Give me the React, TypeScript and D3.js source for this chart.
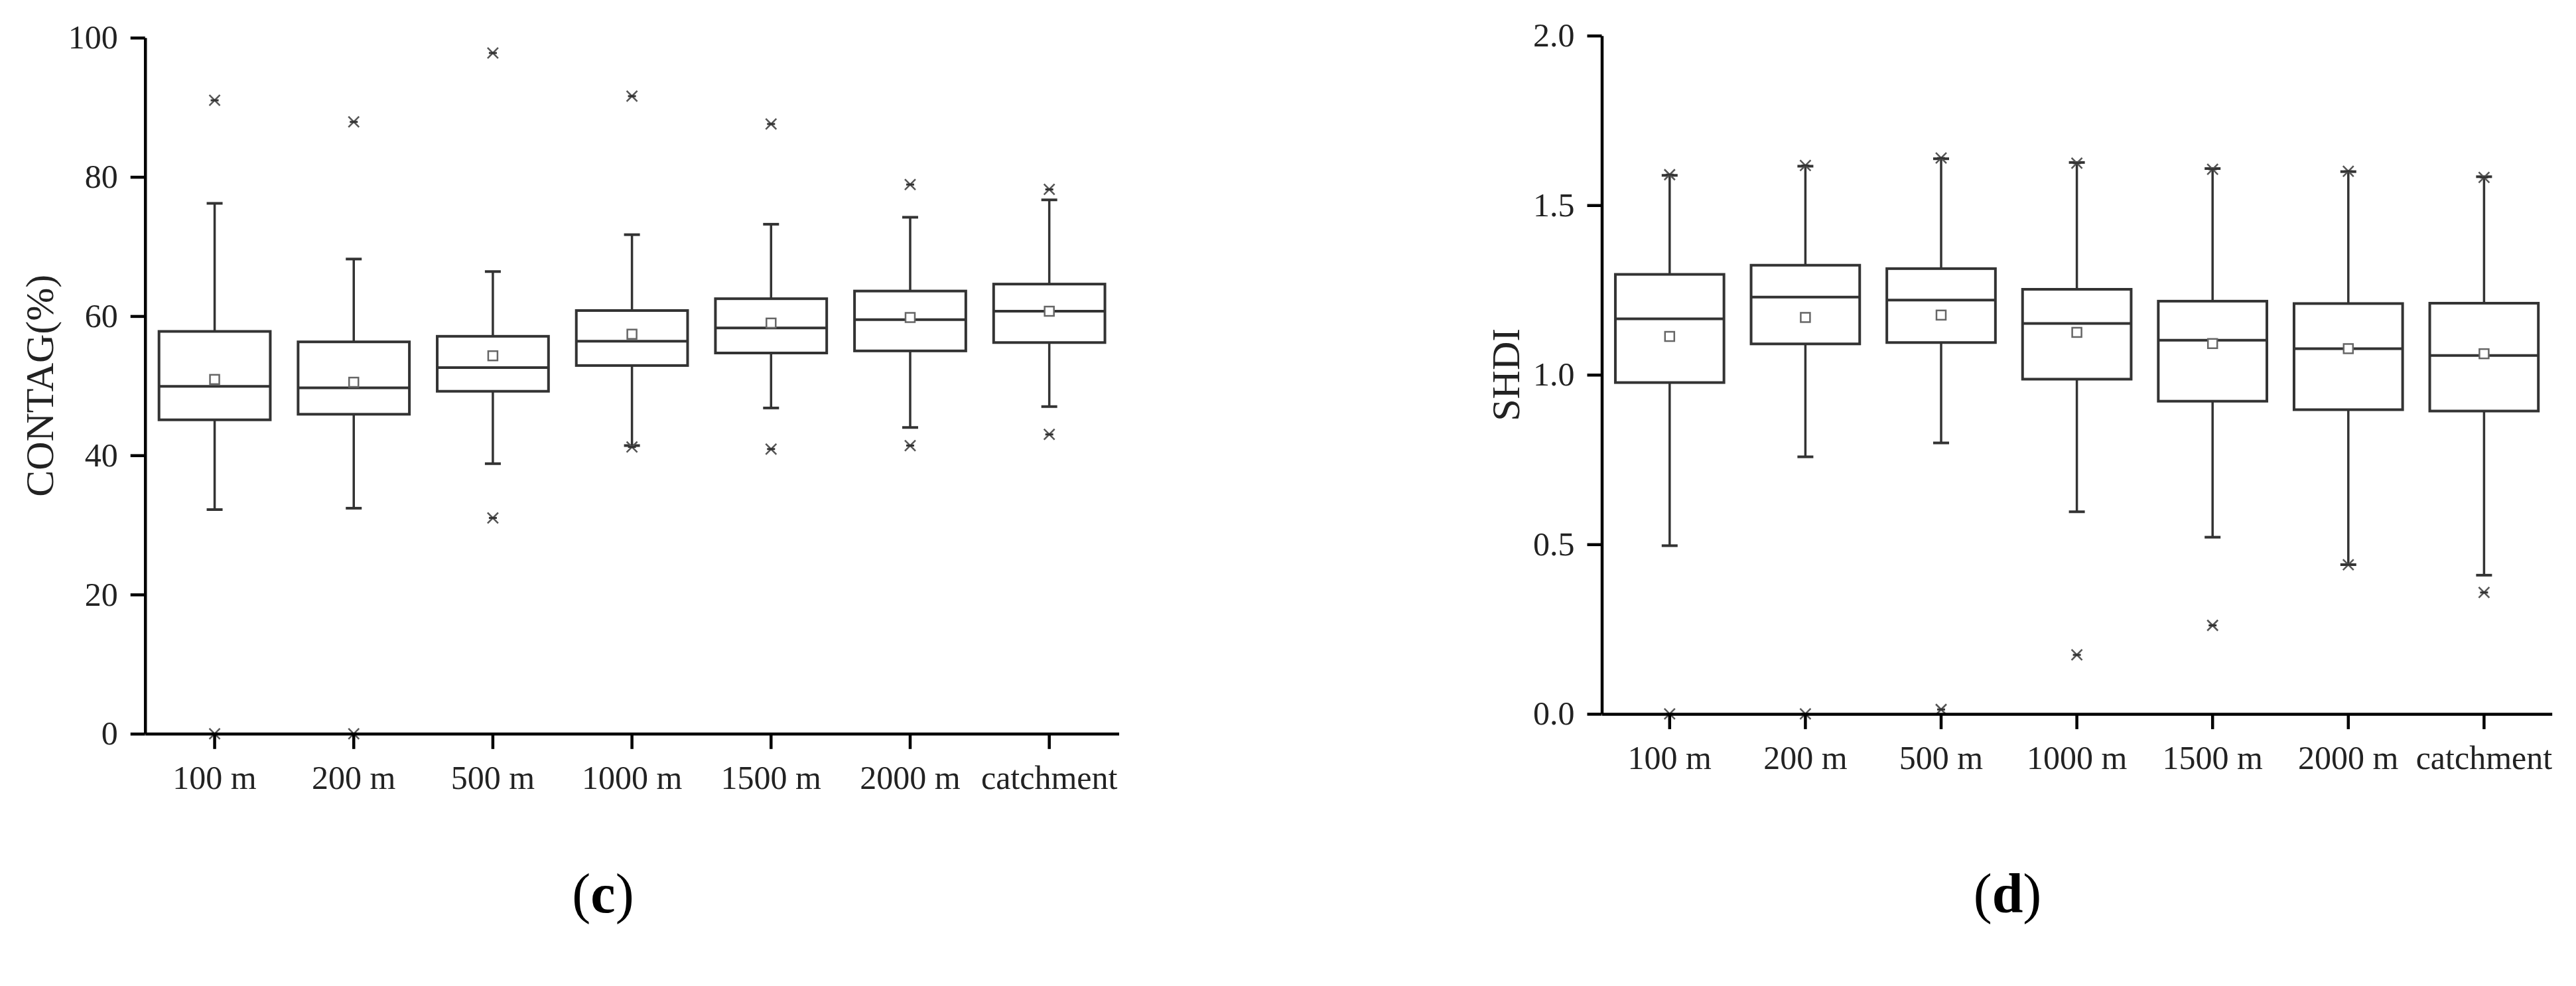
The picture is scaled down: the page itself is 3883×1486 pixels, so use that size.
import React, { useEffect, useRef } from 'react';
import * as d3 from 'd3';

// categories shared by both panels
const categories = ["100 m", "200 m", "500 m", "1000 m", "1500 m", "2000 m", "catchment"];

// (c) CONTAG(%)
const contagQ1 = [45.1, 45.9, 49.2, 52.9, 54.7, 55.0, 56.2];
const contagMedian = [49.9, 49.7, 52.6, 56.4, 58.3, 59.5, 60.7];
const contagQ3 = [57.8, 56.3, 57.1, 60.8, 62.5, 63.6, 64.6];
const contagMean = [50.9, 50.5, 54.3, 57.4, 59.0, 59.8, 60.7];
const contagLow = [32.2, 32.4, 38.8, 41.4, 46.8, 44.0, 47.0];
const contagHigh = [76.2, 68.2, 66.4, 71.7, 73.2, 74.2, 76.7];
const contagOutHigh = [91.0, 87.9, 97.8, 91.6, 87.6, 78.9, 78.2];
const contagOutLow = [0, 0, 31.0, 41.2, 40.9, 41.4, 43.0];
const contagTicks = [0, 20, 40, 60, 80, 100];

// (d) SHDI
const shdiQ1 = [0.977, 1.091, 1.095, 0.987, 0.922, 0.897, 0.893];
const shdiMedian = [1.165, 1.229, 1.220, 1.151, 1.102, 1.077, 1.057];
const shdiQ3 = [1.296, 1.323, 1.313, 1.252, 1.217, 1.210, 1.211];
const shdiMean = [1.113, 1.169, 1.176, 1.125, 1.092, 1.077, 1.062];
const shdiLow = [0.496, 0.758, 0.799, 0.596, 0.521, 0.440, 0.409];
const shdiHigh = [1.588, 1.615, 1.637, 1.626, 1.608, 1.599, 1.584];
const shdiOutHigh = [1.590, 1.617, 1.639, 1.624, 1.606, 1.600, 1.582];
const shdiOutLow = [0, 0, 0.013, 0.174, 0.261, 0.440, 0.358];
const shdiTicks = [0, 0.5, 1.0, 1.5, 2.0];

const FONT = '"Liberation Serif", "Times New Roman", serif';

function drawPanel(svg, opt) {
  const g = svg.append("g");
  const x = d3.scaleBand().domain(categories).range([opt.left, opt.right]).padding(0);
  const y = d3.scaleLinear().domain(opt.domain).range([opt.bottom, opt.top]);
  const bw = x.bandwidth() * 0.8;
  const capW = 24;
  const ink = "#333";

  const rows = categories.map((c, i) => ({
    c, q1: opt.q1[i], med: opt.med[i], q3: opt.q3[i], mean: opt.mean[i],
    lo: opt.lo[i], hi: opt.hi[i], oh: opt.outHigh[i], ol: opt.outLow[i]
  }));

  const box = g.selectAll(".box").data(rows).enter().append("g")
    .attr("transform", d => "translate(" + (x(d.c) + x.bandwidth() / 2) + ",0)");

  // whiskers
  box.append("line").attr("x1", 0).attr("x2", 0)
    .attr("y1", d => y(d.q3)).attr("y2", d => y(d.hi))
    .attr("stroke", ink).attr("stroke-width", 3.5);
  box.append("line").attr("x1", 0).attr("x2", 0)
    .attr("y1", d => y(d.q1)).attr("y2", d => y(d.lo))
    .attr("stroke", ink).attr("stroke-width", 3.5);
  box.append("line").attr("x1", -capW / 2).attr("x2", capW / 2)
    .attr("y1", d => y(d.hi)).attr("y2", d => y(d.hi))
    .attr("stroke", ink).attr("stroke-width", 4);
  box.append("line").attr("x1", -capW / 2).attr("x2", capW / 2)
    .attr("y1", d => y(d.lo)).attr("y2", d => y(d.lo))
    .attr("stroke", ink).attr("stroke-width", 4);

  // box and median
  box.append("rect")
    .attr("x", -bw / 2).attr("width", bw)
    .attr("y", d => y(d.q3)).attr("height", d => y(d.q1) - y(d.q3))
    .attr("fill", "white").attr("stroke", ink).attr("stroke-width", 4);
  box.append("line").attr("x1", -bw / 2).attr("x2", bw / 2)
    .attr("y1", d => y(d.med)).attr("y2", d => y(d.med))
    .attr("stroke", ink).attr("stroke-width", 4);

  // mean square
  box.append("rect")
    .attr("x", -7).attr("width", 14)
    .attr("y", d => y(d.mean) - 7).attr("height", 14)
    .attr("fill", "white").attr("stroke", "#666").attr("stroke-width", 2.5);

  // extreme markers (x with dash)
  const cross = (sel, key) => {
    const m = sel.append("g").attr("transform", d => "translate(0," + y(d[key]) + ")");
    m.append("path").attr("d", "M-8,-8L8,8M-8,8L8,-8")
      .attr("stroke", "#555").attr("stroke-width", 2.5).attr("fill", "none");
    m.append("line").attr("x1", -6).attr("x2", 6).attr("y1", 0).attr("y2", 0)
      .attr("stroke", "#333").attr("stroke-width", 3);
  };
  cross(box, "oh");
  cross(box, "ol");

  // axes
  const yAxis = d3.axisLeft(y).tickValues(opt.ticks).tickFormat(opt.fmt)
    .tickSize(22).tickSizeOuter(0).tickPadding(19);
  const ya = g.append("g").attr("transform", "translate(" + opt.left + ",0)").call(yAxis);
  const xAxis = d3.axisBottom(x).tickSize(23).tickSizeOuter(0).tickPadding(25);
  const xa = g.append("g").attr("transform", "translate(0," + opt.bottom + ")").call(xAxis);
  [ya, xa].forEach(a => {
    a.selectAll("path,line").attr("stroke", "#000").attr("stroke-width", 4.5);
    a.selectAll("text").attr("font-family", FONT).attr("font-size", 50).attr("fill", "#222");
  });

  // axis title
  g.append("text")
    .attr("transform", "translate(" + opt.titleX + "," + (opt.top + opt.bottom) / 2 + ") rotate(-90)")
    .attr("text-anchor", "middle")
    .attr("font-family", FONT).attr("font-size", 60).attr("fill", "#222")
    .text(opt.title);

  // panel caption
  const cap = g.append("text")
    .attr("x", opt.capX).attr("y", 1375)
    .attr("text-anchor", "middle")
    .attr("font-family", FONT).attr("font-size", 84).attr("fill", "#000");
  cap.append("tspan").text("(");
  cap.append("tspan").attr("font-weight", "bold").text(opt.letter);
  cap.append("tspan").text(")");
}

export default function App() {
  const ref = useRef(null);
  useEffect(() => {
    const svg = d3.select(ref.current);
    svg.selectAll("*").remove();
    svg.append("rect").attr("width", 3883).attr("height", 1486).attr("fill", "white");

    drawPanel(svg, {
      left: 218.7, right: 1686.5, top: 56.8, bottom: 1105.8, domain: [0, 100],
      q1: contagQ1, med: contagMedian, q3: contagQ3, mean: contagMean,
      lo: contagLow, hi: contagHigh, outHigh: contagOutHigh, outLow: contagOutLow,
      ticks: contagTicks, fmt: d3.format("d"),
      title: "CONTAG(%)", titleX: 80, capX: 909, letter: "c"
    });

    drawPanel(svg, {
      left: 2414.5, right: 3846.7, top: 53.7, bottom: 1075.9, domain: [0, 2],
      q1: shdiQ1, med: shdiMedian, q3: shdiQ3, mean: shdiMean,
      lo: shdiLow, hi: shdiHigh, outHigh: shdiOutHigh, outLow: shdiOutLow,
      ticks: shdiTicks, fmt: d3.format(".1f"),
      title: "SHDI", titleX: 2290, capX: 3026, letter: "d"
    });
  }, []);

  return (
    <svg ref={ref} width={3883} height={1486}
      style={{ position: "absolute", left: 0, top: 0, display: "block" }} />
  );
}
